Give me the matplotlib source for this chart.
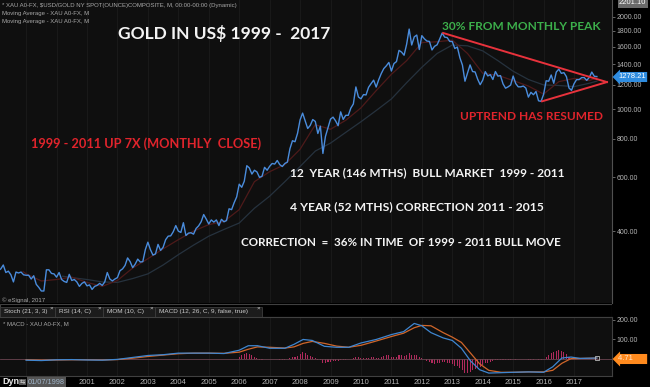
#!/usr/bin/env python3
"""Gold in US$ 1999 - 2017, monthly chart with MACD panel (eSignal style)."""

import numpy as np
import matplotlib
matplotlib.use("Agg")
import matplotlib.pyplot as plt

# monthly closes, Feb 1998 .. Oct 2017
gold_close = [
    297, 301, 310, 293, 296, 288, 273, 294, 292, 294, 288,
    287, 287, 279, 286, 268, 262, 255, 255, 299, 299, 291, 290,
    283, 293, 278, 274, 272, 289, 276, 278, 273, 264, 270, 273,
    265, 267, 258, 264, 266, 270, 266, 273, 293, 279, 275, 279,
    282, 297, 301, 309, 327, 318, 304, 312, 324, 317, 318, 348,
    368, 348, 334, 337, 362, 346, 354, 375, 385, 386, 398, 417,
    400, 396, 426, 387, 394, 395, 391, 408, 416, 429, 453, 438,
    422, 435, 428, 435, 417, 437, 429, 433, 473, 470, 495, 517,
    569, 556, 582, 654, 643, 614, 632, 624, 599, 604, 646, 632,
    651, 665, 662, 680, 659, 650, 665, 672, 743, 789, 783, 834,
    923, 971, 916, 865, 885, 925, 912, 833, 880, 717, 815, 869,
    928, 942, 916, 883, 980, 926, 955, 955, 1008, 1040, 1182, 1096,
    1081, 1116, 1113, 1179, 1212, 1244, 1181, 1248, 1307, 1357, 1385, 1421,
    1332, 1409, 1430, 1556, 1536, 1500, 1628, 1826, 1620, 1722, 1746, 1566,
    1738, 1697, 1669, 1664, 1561, 1604, 1622, 1692, 1772, 1719, 1713, 1664,
    1663, 1578, 1595, 1472, 1393, 1234, 1312, 1395, 1327, 1323, 1253, 1202,
    1244, 1326, 1284, 1296, 1250, 1327, 1282, 1287, 1210, 1171, 1183, 1199,
    1283, 1213, 1183, 1183, 1190, 1172, 1095, 1135, 1115, 1142, 1065, 1061,
    1118, 1238, 1234, 1293, 1215, 1322, 1351, 1309, 1316, 1277, 1173, 1152,
    1211, 1249, 1249, 1268, 1268, 1242, 1269, 1322, 1280, 1278.21,
]
gold_start = 1998 + 1 / 12

# moving averages (sampled off the chart)
ma_slow_t = [2000.2, 2000.5, 2001.0, 2001.5, 2002.0, 2002.5, 2003.0, 2003.5, 2004.0,
             2004.5, 2005.0, 2005.5, 2006.0, 2006.5, 2007.0, 2007.5, 2008.0, 2008.5,
             2009.0, 2009.5, 2010.0, 2010.5, 2011.0, 2011.5, 2012.0, 2012.5, 2013.0,
             2013.5, 2014.0, 2014.5, 2015.0, 2015.5, 2016.0, 2016.5, 2017.0, 2017.5, 2017.75]
ma_slow_v = [285, 282, 278, 273, 272, 280, 290, 310, 335, 360, 385, 405, 425, 475,
             520, 580, 650, 730, 775, 840, 910, 990, 1080, 1220, 1370, 1520, 1620,
             1610, 1550, 1440, 1330, 1250, 1200, 1195, 1185, 1215, 1235]
ma_fast_t = [1998.9, 1999.0, 1999.5, 2000.0, 2000.5, 2001.0, 2001.5, 2002.0, 2002.5,
             2003.0, 2003.5, 2004.0, 2004.5, 2005.0, 2005.5, 2006.0, 2006.5, 2007.0,
             2007.5, 2008.0, 2008.5, 2009.0, 2009.5, 2010.0, 2010.5, 2011.0, 2011.5,
             2012.0, 2012.5, 2013.0, 2013.5, 2014.0, 2014.5, 2015.0, 2015.5, 2016.0,
             2016.5, 2017.0, 2017.5, 2017.75]
ma_fast_v = [295, 290, 275, 278, 283, 272, 264, 276, 303, 325, 350, 375, 400, 420,
             430, 470, 580, 625, 660, 740, 890, 860, 920, 1010, 1150, 1300, 1440,
             1650, 1660, 1680, 1520, 1310, 1290, 1240, 1190, 1120, 1230, 1260, 1240, 1265]

# red trend lines (peak -> apex, low -> apex)
trend_top_t = [2012.70, 2018.08]
trend_top_v = [1773, 1226]
trend_low_t = [2015.95, 2018.08]
trend_low_v = [1061, 1226]

# MACD panel
macd_t = [1999.0, 1999.5, 2000.0, 2000.5, 2001.0, 2001.5, 2002.0, 2002.5, 2003.0,
          2003.5, 2004.0, 2004.5, 2005.0, 2005.5, 2006.0, 2006.3, 2006.6, 2007.0,
          2007.5, 2007.8, 2008.1, 2008.4, 2008.8, 2009.2, 2009.6, 2010.0, 2010.5,
          2011.0, 2011.4, 2011.75, 2012.0, 2012.3, 2012.7, 2013.0, 2013.3, 2013.6,
          2013.9, 2014.2, 2014.6, 2015.0, 2015.5, 2016.0, 2016.3, 2016.6, 2016.9,
          2017.2, 2017.5, 2017.75]
macd_v = [-6, -8, -4, -3, -5, -6, -2, 8, 18, 22, 30, 30, 30, 28, 45, 68, 68, 55,
          55, 75, 100, 95, 65, 60, 60, 82, 100, 125, 140, 182, 170, 135, 108, 95,
          55, -10, -55, -72, -70, -68, -66, -68, -40, 5, 10, 3, 4, 5]
signal_v = [-4, -6, -5, -4, -4, -5, -3, 4, 13, 20, 27, 30, 30, 29, 35, 50, 62, 60,
            56, 62, 80, 90, 80, 66, 60, 70, 92, 115, 132, 160, 172, 170, 135, 112,
            85, 30, -25, -58, -68, -68, -66, -66, -58, -22, 2, 3, 4, 4.71]
hist_start = 2006.0
hist_v = [
    12, 22, 28, 30, 26, 18, 10, 5, -3, -5, 0, 0,
    0, 0, -2, -2, -3, -4, -3, -2, 3, 8, 10, 14,
    25, 35, 30, 22, 15, 10, 6, -5, -5, -18, -20, -15,
    -14, -10, -8, -8, -4, -4, -3, -2, 2, 5, 12, 10,
    5, 5, 4, 6, 8, 10, 6, 6, 10, 15, 18, 18,
    12, 12, 12, 18, 18, 14, 18, 30, 22, 22, 20, 8,
    3, -2, -8, -14, -22, -24, -22, -20, -14, -16, -18, -22,
    -26, -34, -38, -48, -56, -70, -72, -64, -58, -50, -44, -40,
    -32, -22, -18, -14, -10, -6, -5, -4, -5, -6, -5, -4,
    -2, -3, -2, -1, -1, -2, -4, -3, -3, -2, -4, -5,
    -2, 10, 20, 32, 34, 40, 46, 40, 34, 25, 10, 2,
    0, 2, 3, 4, 4, 3, 3, 5, 4, 3,
]

price_ticks = [400, 600, 800, 1000, 1200, 1400, 1600, 1800, 2000]
macd_ticks = [100, 200]
grid_years = list(range(1999, 2018))
year_labels = list(range(2001, 2018))

W, H = 650, 387
X0, X1 = 1998.142, 2018.247


def fx(x):
    return x / W


def fy(y):
    return 1 - y / H


def main():
    fig = plt.figure(figsize=(W / 100, H / 100), dpi=100, facecolor="#000000")
    sans = "Liberation Sans"
    bold = "Lato"

    # ---- price panel
    ax = fig.add_axes([0, fy(303), fx(612), 303 / H])
    ax.set_facecolor("#0f0f0f")
    ax.set_yscale("log")
    ax.set_xlim(X0, X1)
    ax.set_ylim(233, 2272)
    for y in grid_years:
        ax.axvline(y, color="#1b1b1b", lw=0.6, zorder=0)
    t = gold_start + np.arange(len(gold_close)) / 12
    ax.plot(ma_slow_t, ma_slow_v, color="#26323e", lw=0.9)
    ax.plot(ma_fast_t, ma_fast_v, color="#4e1a1a", lw=0.9)
    ax.plot(t, gold_close, color="#4a8cdc", lw=1.0)
    ax.plot(trend_top_t, trend_top_v, color="#e8323c", lw=1.4)
    ax.plot(trend_low_t, trend_low_v, color="#e8323c", lw=1.4)

    ax.yaxis.tick_right()
    ax.set_yticks(price_ticks)
    ax.set_yticklabels(["%.2f" % v for v in price_ticks])
    ax.yaxis.set_minor_locator(matplotlib.ticker.NullLocator())
    ax.set_xticks([])
    ax.tick_params(axis="y", colors="#777777", labelcolor="#b4b4b4",
                   labelsize=5, length=2.5, width=0.6, pad=1)
    for lab in ax.get_yticklabels():
        lab.set_family(sans)
    for s in ax.spines.values():
        s.set_visible(False)
    ax.spines["right"].set_visible(True)
    ax.spines["right"].set_color("#505050")

    # ---- tab bar
    tb = fig.add_axes([0, fy(317), fx(612), 13 / H])
    tb.set_xlim(0, 612)
    tb.set_ylim(0, 13)
    tb.axis("off")
    tb.add_patch(plt.Rectangle((0, 0), 612, 13, fc="#000000", ec="#404040", lw=0.8))
    tabs = [(0, 55, "Stoch (21, 3, 3)"), (55, 103, "RSI (14, C)"),
            (103, 155, "MOM (10, C)"), (155, 262, "MACD (12, 26, C, 9, false, true)")]
    for x0, x1, label in tabs:
        tb.add_patch(plt.Rectangle((x0, 0.5), x1 - x0, 10, fc="#1c1c1c", ec="#3c3c3c", lw=0.6))
        tb.text(x0 + 4, 5.5, label, color="#cccccc", fontsize=4.6, family=sans, va="center")
        tb.text(x1 - 5, 8.5, "\u00d7", color="#cccccc", fontsize=4.5, family=sans, va="center")

    # ---- MACD panel
    am = fig.add_axes([0, fy(376), fx(612), 59 / H])
    am.set_facecolor("#0f0f0f")
    am.set_xlim(X0, X1)
    am.set_ylim(-87, 215)
    for y in grid_years:
        am.axvline(y, color="#1b1b1b", lw=0.6, zorder=0)
    am.axhline(0, color="#6a4450", lw=0.6)
    ht = hist_start + np.arange(len(hist_v)) / 12
    am.bar(ht, hist_v, width=0.035, color="#b02a5c")
    am.plot(macd_t, signal_v, color="#d0662a", lw=0.9)
    am.plot(macd_t, macd_v, color="#3f86d0", lw=0.9)
    am.plot(macd_t[-1], signal_v[-1], marker="s", ms=3, mfc="none", mec="#bbbbbb", mew=0.6)
    am.yaxis.tick_right()
    am.set_yticks(macd_ticks)
    am.set_yticklabels(["%.2f" % v for v in macd_ticks])
    am.set_xticks(year_labels)
    am.set_xticklabels([str(y) for y in year_labels])
    am.tick_params(axis="y", colors="#777777", labelcolor="#b4b4b4",
                   labelsize=5, length=2.5, width=0.6, pad=1)
    am.tick_params(axis="x", length=0, labelcolor="#b4b4b4", labelsize=5.5, pad=2.5)
    for lab in am.get_yticklabels() + am.get_xticklabels():
        lab.set_family(sans)
    for s in am.spines.values():
        s.set_color("#404040")
        s.set_linewidth(0.8)
    am.spines["left"].set_visible(False)

    # ---- header texts
    small = dict(color="#a8a8a8", fontsize=4.3, family=sans, va="center")
    fig.text(fx(2), fy(5), "* XAU A0-FX, $USD/GOLD NY SPOT(OUNCE)COMPOSITE, M, "
             "00:00-00:00 (Dynamic)", **small)
    fig.text(fx(2), fy(13), "Moving Average - XAU A0-FX, M", **small)
    fig.text(fx(2), fy(21), "Moving Average - XAU A0-FX, M", **small)
    fig.text(fx(2), fy(300), "\u00a9 eSignal, 2017", **small)
    fig.text(fx(3), fy(324), "* MACD - XAU A0-FX, M", **small)

    # ---- annotations
    big = dict(family=bold, weight="bold", va="center")
    fig.text(fx(118), fy(33), "GOLD IN US$ 1999 -  2017", color="#f4f4f4", fontsize=12.5, **big)
    fig.text(fx(442), fy(27), "30% FROM MONTHLY PEAK", color="#3caf4b", fontsize=8.6, **big)
    fig.text(fx(460), fy(117), "UPTREND HAS RESUMED", color="#e0242c", fontsize=8.6, **big)
    fig.text(fx(31), fy(144), "1999 - 2011 UP 7X (MONTHLY  CLOSE)", color="#e0242c",
             fontsize=9.2, **big)
    fig.text(fx(290), fy(173), "12  YEAR (146 MTHS)  BULL MARKET  1999 - 2011",
             color="#f4f4f4", fontsize=8.6, **big)
    fig.text(fx(290), fy(207), "4 YEAR (52 MTHS) CORRECTION 2011 - 2015",
             color="#f4f4f4", fontsize=8.7, **big)
    fig.text(fx(241), fy(242), "CORRECTION  =  36% IN TIME  OF 1999 - 2011 BULL MOVE",
             color="#f4f4f4", fontsize=8.35, **big)

    # ---- price tags and bottom strip
    fig.text(fx(619), fy(3), "2201.10", color="#ffffff", fontsize=5.5, family=sans, va="center",
             bbox=dict(boxstyle="square,pad=0.15", fc="#6a6a6a", ec="none"))
    fig.text(fx(618), fy(77), "1278.21", color="#ffffff", fontsize=5.5, family=sans, va="center",
             bbox=dict(boxstyle="larrow,pad=0.2", fc="#2e8ce0", ec="none"))
    fig.text(fx(618), fy(359), "4.71      ", color="#ffe6cc", fontsize=5.5, family=sans,
             va="center", bbox=dict(boxstyle="larrow,pad=0.2", fc="#ff8a1e", ec="none"))
    fig.text(fx(2), fy(382), "Dyn", color="#e8e8e8", fontsize=6.5, family=sans,
             weight="bold", va="center")
    fig.text(fx(20), fy(382), "\u21c6", color="#dddddd", fontsize=4.5, family="DejaVu Sans",
             va="center", bbox=dict(boxstyle="square,pad=0.1", fc="#555555", ec="none"))
    fig.text(fx(28), fy(382), "01/07/1998", color="#9fb4c8", fontsize=5.3, family=sans,
             va="center", bbox=dict(boxstyle="square,pad=0.15", fc="#555555", ec="none"))

    fig.savefig("out.png", dpi=100, facecolor=fig.get_facecolor())


if __name__ == "__main__":
    main()
